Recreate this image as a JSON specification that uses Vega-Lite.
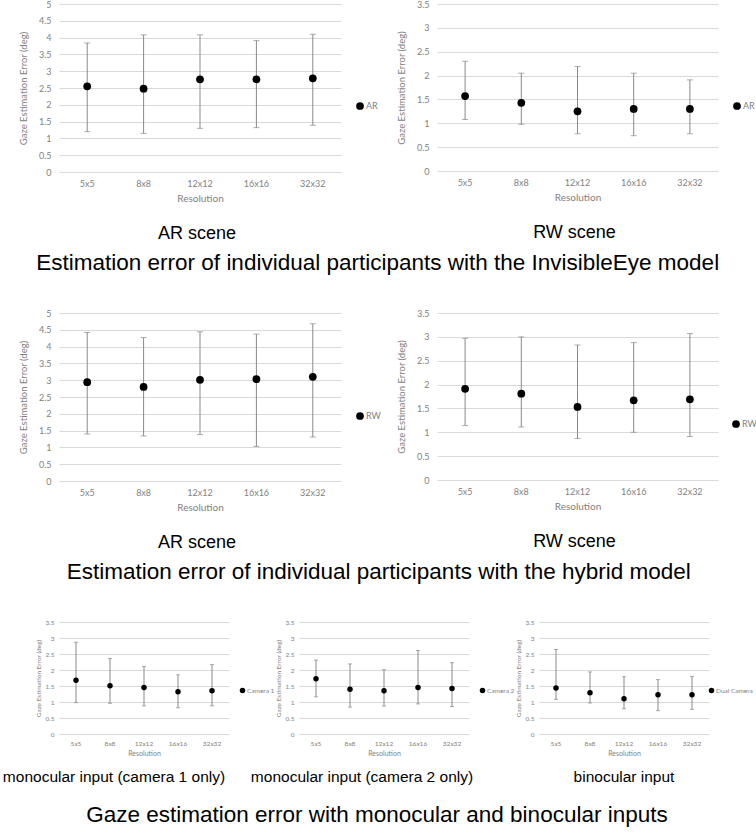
{
  "$schema": "https://vega.github.io/schema/vega-lite/v6.json",
  "background": "white",
  "padding": {"left": 2, "top": 0, "right": 0, "bottom": 0},
  "datasets": {
    "gaze": [
      {"panel": "ie_ar", "series": "AR", "res": "5x5", "mean": 2.55, "lo": 1.20, "hi": 3.84},
      {"panel": "ie_ar", "series": "AR", "res": "8x8", "mean": 2.48, "lo": 1.15, "hi": 4.08},
      {"panel": "ie_ar", "series": "AR", "res": "12x12", "mean": 2.76, "lo": 1.30, "hi": 4.08},
      {"panel": "ie_ar", "series": "AR", "res": "16x16", "mean": 2.76, "lo": 1.32, "hi": 3.91},
      {"panel": "ie_ar", "series": "AR", "res": "32x32", "mean": 2.79, "lo": 1.39, "hi": 4.10},
      {"panel": "ie_rw", "series": "AR", "res": "5x5", "mean": 1.57, "lo": 1.08, "hi": 2.30},
      {"panel": "ie_rw", "series": "AR", "res": "8x8", "mean": 1.43, "lo": 0.98, "hi": 2.05},
      {"panel": "ie_rw", "series": "AR", "res": "12x12", "mean": 1.25, "lo": 0.78, "hi": 2.19},
      {"panel": "ie_rw", "series": "AR", "res": "16x16", "mean": 1.30, "lo": 0.74, "hi": 2.05},
      {"panel": "ie_rw", "series": "AR", "res": "32x32", "mean": 1.30, "lo": 0.78, "hi": 1.91},
      {"panel": "hy_ar", "series": "RW", "res": "5x5", "mean": 2.94, "lo": 1.40, "hi": 4.42},
      {"panel": "hy_ar", "series": "RW", "res": "8x8", "mean": 2.80, "lo": 1.34, "hi": 4.27},
      {"panel": "hy_ar", "series": "RW", "res": "12x12", "mean": 3.01, "lo": 1.38, "hi": 4.44},
      {"panel": "hy_ar", "series": "RW", "res": "16x16", "mean": 3.03, "lo": 1.03, "hi": 4.37},
      {"panel": "hy_ar", "series": "RW", "res": "32x32", "mean": 3.10, "lo": 1.31, "hi": 4.68},
      {"panel": "hy_rw", "series": "RW", "res": "5x5", "mean": 1.91, "lo": 1.14, "hi": 2.97},
      {"panel": "hy_rw", "series": "RW", "res": "8x8", "mean": 1.81, "lo": 1.11, "hi": 3.00},
      {"panel": "hy_rw", "series": "RW", "res": "12x12", "mean": 1.53, "lo": 0.87, "hi": 2.83},
      {"panel": "hy_rw", "series": "RW", "res": "16x16", "mean": 1.67, "lo": 1.00, "hi": 2.88},
      {"panel": "hy_rw", "series": "RW", "res": "32x32", "mean": 1.69, "lo": 0.91, "hi": 3.07},
      {"panel": "cam1", "series": "Camera 1", "res": "5x5", "mean": 1.68, "lo": 0.98, "hi": 2.87},
      {"panel": "cam1", "series": "Camera 1", "res": "8x8", "mean": 1.51, "lo": 0.96, "hi": 2.36},
      {"panel": "cam1", "series": "Camera 1", "res": "12x12", "mean": 1.45, "lo": 0.88, "hi": 2.11},
      {"panel": "cam1", "series": "Camera 1", "res": "16x16", "mean": 1.32, "lo": 0.82, "hi": 1.85},
      {"panel": "cam1", "series": "Camera 1", "res": "32x32", "mean": 1.35, "lo": 0.88, "hi": 2.17},
      {"panel": "cam2", "series": "Camera 2", "res": "5x5", "mean": 1.73, "lo": 1.16, "hi": 2.31},
      {"panel": "cam2", "series": "Camera 2", "res": "8x8", "mean": 1.40, "lo": 0.84, "hi": 2.19},
      {"panel": "cam2", "series": "Camera 2", "res": "12x12", "mean": 1.35, "lo": 0.87, "hi": 2.01},
      {"panel": "cam2", "series": "Camera 2", "res": "16x16", "mean": 1.45, "lo": 0.94, "hi": 2.61},
      {"panel": "cam2", "series": "Camera 2", "res": "32x32", "mean": 1.42, "lo": 0.86, "hi": 2.23},
      {"panel": "dual", "series": "Dual Camera", "res": "5x5", "mean": 1.44, "lo": 1.08, "hi": 2.64},
      {"panel": "dual", "series": "Dual Camera", "res": "8x8", "mean": 1.29, "lo": 0.97, "hi": 1.94},
      {"panel": "dual", "series": "Dual Camera", "res": "12x12", "mean": 1.10, "lo": 0.79, "hi": 1.79},
      {"panel": "dual", "series": "Dual Camera", "res": "16x16", "mean": 1.23, "lo": 0.73, "hi": 1.70},
      {"panel": "dual", "series": "Dual Camera", "res": "32x32", "mean": 1.23, "lo": 0.77, "hi": 1.80}
    ]
  },
  "bounds": "flush",
  "spacing": 309,
  "resolve": {"scale": {"color": "independent"}, "legend": {"color": "independent"}},
  "vconcat": [
    {
      "title": {"text": "Estimation error of individual participants with the InvisibleEye model", "orient": "bottom", "anchor": "middle", "fontSize": 22.5, "offset": 9, "dx": -9},
      "bounds": "flush",
      "spacing": 96,
      "resolve": {"scale": {"color": "independent"}, "legend": {"color": "independent"}},
      "hconcat": [
        {
          "width": 282, "height": 168,
          "data": {"name": "gaze"},
          "transform": [{"filter": "datum.panel === 'ie_ar'"}],
          "title": {"text": "AR scene", "orient": "bottom", "anchor": "middle", "frame": "group", "fontSize": 18, "offset": 22, "dx": -3},
          "encoding": {
            "x": {"field": "res", "type": "nominal", "sort": ["5x5", "8x8", "12x12", "16x16", "32x32"], "title": "Resolution",
                  "scale": {"paddingInner": 0, "paddingOuter": 0}, "axis": {"labelPadding": 7, "titlePadding": 5}}
          },
          "layer": [
            {"mark": {"type": "rule", "color": "#898989"},
             "encoding": {"y": {"field": "lo", "type": "quantitative", "scale": {"domain": [0, 5], "nice": false}, "title": "Gaze Estimation Error (deg)",
                                "axis": {"values": [0, 0.5, 1, 1.5, 2, 2.5, 3, 3.5, 4, 4.5, 5], "format": "~g", "labelPadding": 8, "titlePadding": 10}},
                          "y2": {"field": "hi"}}},
            {"mark": {"type": "tick", "color": "#898989", "size": 6, "thickness": 1},
             "encoding": {"y": {"field": "lo", "type": "quantitative", "scale": {"domain": [0, 5], "nice": false}, "title": "Gaze Estimation Error (deg)",
                                "axis": {"values": [0, 0.5, 1, 1.5, 2, 2.5, 3, 3.5, 4, 4.5, 5], "format": "~g", "labelPadding": 8, "titlePadding": 10}}}},
            {"mark": {"type": "tick", "color": "#898989", "size": 6, "thickness": 1},
             "encoding": {"y": {"field": "hi", "type": "quantitative", "scale": {"domain": [0, 5], "nice": false}, "title": "Gaze Estimation Error (deg)",
                                "axis": {"values": [0, 0.5, 1, 1.5, 2, 2.5, 3, 3.5, 4, 4.5, 5], "format": "~g", "labelPadding": 8, "titlePadding": 10}}}},
            {"mark": {"type": "point", "filled": true, "size": 60, "opacity": 1},
             "encoding": {"y": {"field": "mean", "type": "quantitative", "scale": {"domain": [0, 5], "nice": false}, "title": "Gaze Estimation Error (deg)",
                                "axis": {"values": [0, 0.5, 1, 1.5, 2, 2.5, 3, 3.5, 4, 4.5, 5], "format": "~g", "labelPadding": 8, "titlePadding": 10}},
                          "color": {"field": "series", "type": "nominal", "scale": {"range": ["#000000"]},
                                    "legend": {"orient": "none", "legendX": 296, "legendY": 97, "title": null, "symbolSize": 60}}}}
          ]
        },
        {
          "width": 281, "height": 167,
          "data": {"name": "gaze"},
          "transform": [{"filter": "datum.panel === 'ie_rw'"}],
          "title": {"text": "RW scene", "orient": "bottom", "anchor": "middle", "frame": "group", "fontSize": 18, "offset": 22, "dx": -3},
          "encoding": {
            "x": {"field": "res", "type": "nominal", "sort": ["5x5", "8x8", "12x12", "16x16", "32x32"], "title": "Resolution",
                  "scale": {"paddingInner": 0, "paddingOuter": 0}, "axis": {"labelPadding": 7, "titlePadding": 5}}
          },
          "layer": [
            {"mark": {"type": "rule", "color": "#898989"},
             "encoding": {"y": {"field": "lo", "type": "quantitative", "scale": {"domain": [0, 3.5], "nice": false}, "title": "Gaze Estimation Error (deg)",
                                "axis": {"values": [0, 0.5, 1, 1.5, 2, 2.5, 3, 3.5], "format": "~g", "labelPadding": 8, "titlePadding": 10}},
                          "y2": {"field": "hi"}}},
            {"mark": {"type": "tick", "color": "#898989", "size": 6, "thickness": 1},
             "encoding": {"y": {"field": "lo", "type": "quantitative", "scale": {"domain": [0, 3.5], "nice": false}, "title": "Gaze Estimation Error (deg)",
                                "axis": {"values": [0, 0.5, 1, 1.5, 2, 2.5, 3, 3.5], "format": "~g", "labelPadding": 8, "titlePadding": 10}}}},
            {"mark": {"type": "tick", "color": "#898989", "size": 6, "thickness": 1},
             "encoding": {"y": {"field": "hi", "type": "quantitative", "scale": {"domain": [0, 3.5], "nice": false}, "title": "Gaze Estimation Error (deg)",
                                "axis": {"values": [0, 0.5, 1, 1.5, 2, 2.5, 3, 3.5], "format": "~g", "labelPadding": 8, "titlePadding": 10}}}},
            {"mark": {"type": "point", "filled": true, "size": 60, "opacity": 1},
             "encoding": {"y": {"field": "mean", "type": "quantitative", "scale": {"domain": [0, 3.5], "nice": false}, "title": "Gaze Estimation Error (deg)",
                                "axis": {"values": [0, 0.5, 1, 1.5, 2, 2.5, 3, 3.5], "format": "~g", "labelPadding": 8, "titlePadding": 10}},
                          "color": {"field": "series", "type": "nominal", "scale": {"range": ["#000000"]},
                                    "legend": {"orient": "none", "legendX": 295, "legendY": 97, "title": null, "symbolSize": 60}}}}
          ]
        }
      ]
    },
    {
      "title": {"text": "Estimation error of individual participants with the hybrid model", "orient": "bottom", "anchor": "middle", "fontSize": 22.5, "offset": 9, "dx": -9},
      "bounds": "flush",
      "spacing": 96,
      "resolve": {"scale": {"color": "independent"}, "legend": {"color": "independent"}},
      "hconcat": [
        {
          "width": 282, "height": 168,
          "data": {"name": "gaze"},
          "transform": [{"filter": "datum.panel === 'hy_ar'"}],
          "title": {"text": "AR scene", "orient": "bottom", "anchor": "middle", "frame": "group", "fontSize": 18, "offset": 22, "dx": -3},
          "encoding": {
            "x": {"field": "res", "type": "nominal", "sort": ["5x5", "8x8", "12x12", "16x16", "32x32"], "title": "Resolution",
                  "scale": {"paddingInner": 0, "paddingOuter": 0}, "axis": {"labelPadding": 7, "titlePadding": 5}}
          },
          "layer": [
            {"mark": {"type": "rule", "color": "#898989"},
             "encoding": {"y": {"field": "lo", "type": "quantitative", "scale": {"domain": [0, 5], "nice": false}, "title": "Gaze Estimation Error (deg)",
                                "axis": {"values": [0, 0.5, 1, 1.5, 2, 2.5, 3, 3.5, 4, 4.5, 5], "format": "~g", "labelPadding": 8, "titlePadding": 10}},
                          "y2": {"field": "hi"}}},
            {"mark": {"type": "tick", "color": "#898989", "size": 6, "thickness": 1},
             "encoding": {"y": {"field": "lo", "type": "quantitative", "scale": {"domain": [0, 5], "nice": false}, "title": "Gaze Estimation Error (deg)",
                                "axis": {"values": [0, 0.5, 1, 1.5, 2, 2.5, 3, 3.5, 4, 4.5, 5], "format": "~g", "labelPadding": 8, "titlePadding": 10}}}},
            {"mark": {"type": "tick", "color": "#898989", "size": 6, "thickness": 1},
             "encoding": {"y": {"field": "hi", "type": "quantitative", "scale": {"domain": [0, 5], "nice": false}, "title": "Gaze Estimation Error (deg)",
                                "axis": {"values": [0, 0.5, 1, 1.5, 2, 2.5, 3, 3.5, 4, 4.5, 5], "format": "~g", "labelPadding": 8, "titlePadding": 10}}}},
            {"mark": {"type": "point", "filled": true, "size": 60, "opacity": 1},
             "encoding": {"y": {"field": "mean", "type": "quantitative", "scale": {"domain": [0, 5], "nice": false}, "title": "Gaze Estimation Error (deg)",
                                "axis": {"values": [0, 0.5, 1, 1.5, 2, 2.5, 3, 3.5, 4, 4.5, 5], "format": "~g", "labelPadding": 8, "titlePadding": 10}},
                          "color": {"field": "series", "type": "nominal", "scale": {"range": ["#000000"]},
                                    "legend": {"orient": "none", "legendX": 296, "legendY": 98, "title": null, "symbolSize": 60}}}}
          ]
        },
        {
          "width": 281, "height": 167,
          "data": {"name": "gaze"},
          "transform": [{"filter": "datum.panel === 'hy_rw'"}],
          "title": {"text": "RW scene", "orient": "bottom", "anchor": "middle", "frame": "group", "fontSize": 18, "offset": 22, "dx": -3},
          "encoding": {
            "x": {"field": "res", "type": "nominal", "sort": ["5x5", "8x8", "12x12", "16x16", "32x32"], "title": "Resolution",
                  "scale": {"paddingInner": 0, "paddingOuter": 0}, "axis": {"labelPadding": 7, "titlePadding": 5}}
          },
          "layer": [
            {"mark": {"type": "rule", "color": "#898989"},
             "encoding": {"y": {"field": "lo", "type": "quantitative", "scale": {"domain": [0, 3.5], "nice": false}, "title": "Gaze Estimation Error (deg)",
                                "axis": {"values": [0, 0.5, 1, 1.5, 2, 2.5, 3, 3.5], "format": "~g", "labelPadding": 8, "titlePadding": 10}},
                          "y2": {"field": "hi"}}},
            {"mark": {"type": "tick", "color": "#898989", "size": 6, "thickness": 1},
             "encoding": {"y": {"field": "lo", "type": "quantitative", "scale": {"domain": [0, 3.5], "nice": false}, "title": "Gaze Estimation Error (deg)",
                                "axis": {"values": [0, 0.5, 1, 1.5, 2, 2.5, 3, 3.5], "format": "~g", "labelPadding": 8, "titlePadding": 10}}}},
            {"mark": {"type": "tick", "color": "#898989", "size": 6, "thickness": 1},
             "encoding": {"y": {"field": "hi", "type": "quantitative", "scale": {"domain": [0, 3.5], "nice": false}, "title": "Gaze Estimation Error (deg)",
                                "axis": {"values": [0, 0.5, 1, 1.5, 2, 2.5, 3, 3.5], "format": "~g", "labelPadding": 8, "titlePadding": 10}}}},
            {"mark": {"type": "point", "filled": true, "size": 60, "opacity": 1},
             "encoding": {"y": {"field": "mean", "type": "quantitative", "scale": {"domain": [0, 3.5], "nice": false}, "title": "Gaze Estimation Error (deg)",
                                "axis": {"values": [0, 0.5, 1, 1.5, 2, 2.5, 3, 3.5], "format": "~g", "labelPadding": 8, "titlePadding": 10}},
                          "color": {"field": "series", "type": "nominal", "scale": {"range": ["#000000"]},
                                    "legend": {"orient": "none", "legendX": 294, "legendY": 106, "title": null, "symbolSize": 60}}}}
          ]
        }
      ]
    },
    {
      "title": {"text": "Gaze estimation error with monocular and binocular inputs", "orient": "bottom", "anchor": "middle", "fontSize": 22.5, "offset": 19, "dx": -1},
      "bounds": "flush",
      "spacing": 70,
      "resolve": {"scale": {"color": "independent"}, "legend": {"color": "independent"}},
      "hconcat": [
        {
          "width": 170, "height": 112,
          "data": {"name": "gaze"},
          "transform": [{"filter": "datum.panel === 'cam1'"}],
          "title": {"text": "monocular input (camera 1 only)", "orient": "bottom", "anchor": "middle", "frame": "group", "fontSize": 15.5, "offset": 13, "dx": -30},
          "encoding": {
            "x": {"field": "res", "type": "nominal", "sort": ["5x5", "8x8", "12x12", "16x16", "32x32"], "title": "Resolution",
                  "scale": {"paddingInner": 0, "paddingOuter": 0},
                  "axis": {"labelPadding": 6, "titlePadding": 3, "labelFontSize": 6.5, "titleFontSize": 7}}
          },
          "layer": [
            {"mark": {"type": "rule", "color": "#898989"},
             "encoding": {"y": {"field": "lo", "type": "quantitative", "scale": {"domain": [0, 3.5], "nice": false}, "title": "Gaze Estimation Error (deg)",
                                "axis": {"values": [0, 0.5, 1, 1.5, 2, 2.5, 3, 3.5], "format": "~g", "labelPadding": 5, "titlePadding": 3, "labelFontSize": 6.5, "titleFontSize": 6.5}},
                          "y2": {"field": "hi"}}},
            {"mark": {"type": "tick", "color": "#898989", "size": 4, "thickness": 1},
             "encoding": {"y": {"field": "lo", "type": "quantitative", "scale": {"domain": [0, 3.5], "nice": false}, "title": "Gaze Estimation Error (deg)",
                                "axis": {"values": [0, 0.5, 1, 1.5, 2, 2.5, 3, 3.5], "format": "~g", "labelPadding": 5, "titlePadding": 3, "labelFontSize": 6.5, "titleFontSize": 6.5}}}},
            {"mark": {"type": "tick", "color": "#898989", "size": 4, "thickness": 1},
             "encoding": {"y": {"field": "hi", "type": "quantitative", "scale": {"domain": [0, 3.5], "nice": false}, "title": "Gaze Estimation Error (deg)",
                                "axis": {"values": [0, 0.5, 1, 1.5, 2, 2.5, 3, 3.5], "format": "~g", "labelPadding": 5, "titlePadding": 3, "labelFontSize": 6.5, "titleFontSize": 6.5}}}},
            {"mark": {"type": "point", "filled": true, "size": 30, "opacity": 1},
             "encoding": {"y": {"field": "mean", "type": "quantitative", "scale": {"domain": [0, 3.5], "nice": false}, "title": "Gaze Estimation Error (deg)",
                                "axis": {"values": [0, 0.5, 1, 1.5, 2, 2.5, 3, 3.5], "format": "~g", "labelPadding": 5, "titlePadding": 3, "labelFontSize": 6.5, "titleFontSize": 6.5}},
                          "color": {"field": "series", "type": "nominal", "scale": {"range": ["#000000"]},
                                    "legend": {"orient": "none", "legendX": 180, "legendY": 65, "title": null, "symbolSize": 30, "labelFontSize": 6.5}}}}
          ]
        },
        {
          "width": 170, "height": 112,
          "data": {"name": "gaze"},
          "transform": [{"filter": "datum.panel === 'cam2'"}],
          "title": {"text": "monocular input (camera 2 only)", "orient": "bottom", "anchor": "middle", "frame": "group", "fontSize": 15.5, "offset": 13, "dx": -22},
          "encoding": {
            "x": {"field": "res", "type": "nominal", "sort": ["5x5", "8x8", "12x12", "16x16", "32x32"], "title": "Resolution",
                  "scale": {"paddingInner": 0, "paddingOuter": 0},
                  "axis": {"labelPadding": 6, "titlePadding": 3, "labelFontSize": 6.5, "titleFontSize": 7}}
          },
          "layer": [
            {"mark": {"type": "rule", "color": "#898989"},
             "encoding": {"y": {"field": "lo", "type": "quantitative", "scale": {"domain": [0, 3.5], "nice": false}, "title": "Gaze Estimation Error (deg)",
                                "axis": {"values": [0, 0.5, 1, 1.5, 2, 2.5, 3, 3.5], "format": "~g", "labelPadding": 5, "titlePadding": 3, "labelFontSize": 6.5, "titleFontSize": 6.5}},
                          "y2": {"field": "hi"}}},
            {"mark": {"type": "tick", "color": "#898989", "size": 4, "thickness": 1},
             "encoding": {"y": {"field": "lo", "type": "quantitative", "scale": {"domain": [0, 3.5], "nice": false}, "title": "Gaze Estimation Error (deg)",
                                "axis": {"values": [0, 0.5, 1, 1.5, 2, 2.5, 3, 3.5], "format": "~g", "labelPadding": 5, "titlePadding": 3, "labelFontSize": 6.5, "titleFontSize": 6.5}}}},
            {"mark": {"type": "tick", "color": "#898989", "size": 4, "thickness": 1},
             "encoding": {"y": {"field": "hi", "type": "quantitative", "scale": {"domain": [0, 3.5], "nice": false}, "title": "Gaze Estimation Error (deg)",
                                "axis": {"values": [0, 0.5, 1, 1.5, 2, 2.5, 3, 3.5], "format": "~g", "labelPadding": 5, "titlePadding": 3, "labelFontSize": 6.5, "titleFontSize": 6.5}}}},
            {"mark": {"type": "point", "filled": true, "size": 30, "opacity": 1},
             "encoding": {"y": {"field": "mean", "type": "quantitative", "scale": {"domain": [0, 3.5], "nice": false}, "title": "Gaze Estimation Error (deg)",
                                "axis": {"values": [0, 0.5, 1, 1.5, 2, 2.5, 3, 3.5], "format": "~g", "labelPadding": 5, "titlePadding": 3, "labelFontSize": 6.5, "titleFontSize": 6.5}},
                          "color": {"field": "series", "type": "nominal", "scale": {"range": ["#000000"]},
                                    "legend": {"orient": "none", "legendX": 180, "legendY": 65, "title": null, "symbolSize": 30, "labelFontSize": 6.5}}}}
          ]
        },
        {
          "width": 170, "height": 112,
          "data": {"name": "gaze"},
          "transform": [{"filter": "datum.panel === 'dual'"}],
          "title": {"text": "binocular input", "orient": "bottom", "anchor": "middle", "frame": "group", "fontSize": 15.5, "offset": 13},
          "encoding": {
            "x": {"field": "res", "type": "nominal", "sort": ["5x5", "8x8", "12x12", "16x16", "32x32"], "title": "Resolution",
                  "scale": {"paddingInner": 0, "paddingOuter": 0},
                  "axis": {"labelPadding": 6, "titlePadding": 3, "labelFontSize": 6.5, "titleFontSize": 7}}
          },
          "layer": [
            {"mark": {"type": "rule", "color": "#898989"},
             "encoding": {"y": {"field": "lo", "type": "quantitative", "scale": {"domain": [0, 3.5], "nice": false}, "title": "Gaze Estimation Error (deg)",
                                "axis": {"values": [0, 0.5, 1, 1.5, 2, 2.5, 3, 3.5], "format": "~g", "labelPadding": 5, "titlePadding": 3, "labelFontSize": 6.5, "titleFontSize": 6.5}},
                          "y2": {"field": "hi"}}},
            {"mark": {"type": "tick", "color": "#898989", "size": 4, "thickness": 1},
             "encoding": {"y": {"field": "lo", "type": "quantitative", "scale": {"domain": [0, 3.5], "nice": false}, "title": "Gaze Estimation Error (deg)",
                                "axis": {"values": [0, 0.5, 1, 1.5, 2, 2.5, 3, 3.5], "format": "~g", "labelPadding": 5, "titlePadding": 3, "labelFontSize": 6.5, "titleFontSize": 6.5}}}},
            {"mark": {"type": "tick", "color": "#898989", "size": 4, "thickness": 1},
             "encoding": {"y": {"field": "hi", "type": "quantitative", "scale": {"domain": [0, 3.5], "nice": false}, "title": "Gaze Estimation Error (deg)",
                                "axis": {"values": [0, 0.5, 1, 1.5, 2, 2.5, 3, 3.5], "format": "~g", "labelPadding": 5, "titlePadding": 3, "labelFontSize": 6.5, "titleFontSize": 6.5}}}},
            {"mark": {"type": "point", "filled": true, "size": 30, "opacity": 1},
             "encoding": {"y": {"field": "mean", "type": "quantitative", "scale": {"domain": [0, 3.5], "nice": false}, "title": "Gaze Estimation Error (deg)",
                                "axis": {"values": [0, 0.5, 1, 1.5, 2, 2.5, 3, 3.5], "format": "~g", "labelPadding": 5, "titlePadding": 3, "labelFontSize": 6.5, "titleFontSize": 6.5}},
                          "color": {"field": "series", "type": "nominal", "scale": {"range": ["#000000"]},
                                    "legend": {"orient": "none", "legendX": 169, "legendY": 65, "title": null, "symbolSize": 30, "labelFontSize": 6.5}}}}
          ]
        }
      ]
    }
  ],
  "config": {
    "view": {"stroke": null},
    "font": "Lato",
    "axis": {
      "labelColor": "#7f7f7f", "titleColor": "#7f7f7f", "titleFontWeight": "normal",
      "labelFont": "Lato", "titleFont": "Lato", "labelFontSize": 9, "titleFontSize": 9.5,
      "domain": false, "ticks": false, "gridColor": "#d9d9d9", "gridWidth": 1
    },
    "axisX": {"grid": false, "labelAngle": 0, "titleFontSize": 10},
    "legend": {"padding": 0, "labelColor": "#7f7f7f", "labelFont": "Lato", "labelFontSize": 9, "symbolType": "circle", "labelOffset": 1},
    "title": {"font": "Liberation Sans", "fontWeight": "normal", "color": "#000000"}
  }
}
